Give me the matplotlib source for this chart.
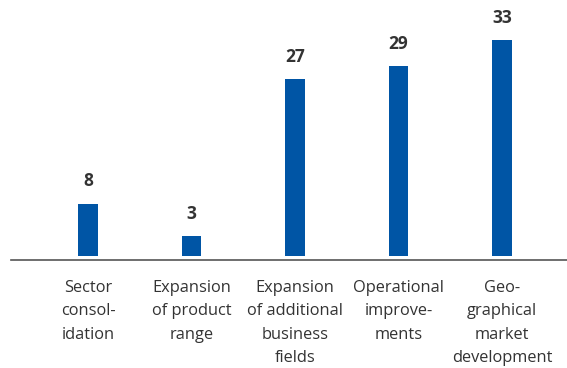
import matplotlib
matplotlib.use("Agg")
import matplotlib.pyplot as plt

categories = ["Sector\nconsol-\nidation", "Expansion\nof product\nrange",
              "Expansion\nof additional\nbusiness\nfields", "Operational\nimprove-\nments",
              "Geo-\ngraphical\nmarket\ndevelopment"]
values = [8, 3, 27, 29, 33]

plt.rcParams['font.family'] = ['Open Sans', 'DejaVu Sans']

fig = plt.figure(figsize=(5.67, 3.68), dpi=100)
ax = fig.add_axes([11/567, (368-260)/368, 1-11/567, 260/368])

x = list(range(len(values)))
ax.bar(x, values, width=0.19, color='#0055a5')
ax.set_xlim(-0.744, 4.628)
ax.set_ylim(-0.61, 39.1)

for xi, v in zip(x, values):
    ax.annotate(str(v), (xi, v), xytext=(0, 9.5), textcoords='offset points',
                ha='center', va='bottom', fontsize=12.5, fontweight='bold', color='#333333')

for s in ['top', 'right', 'left']:
    ax.spines[s].set_visible(False)
ax.spines['bottom'].set_color('#555555')
ax.spines['bottom'].set_linewidth(1.2)
ax.set_yticks([])
ax.set_xticks(x)
ax.set_xticklabels(categories, fontsize=11.8, color='#333333', linespacing=1.6, va='top')
ax.tick_params(axis='x', length=0, pad=14.5)

fig.savefig('out.png', dpi=100)
